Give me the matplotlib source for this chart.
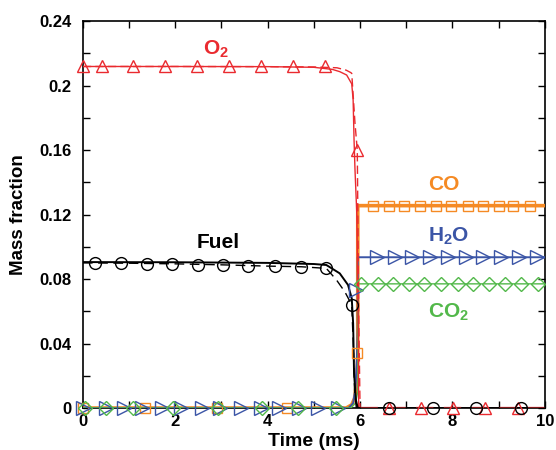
import matplotlib
matplotlib.use("Agg")
import matplotlib.pyplot as plt
from matplotlib.ticker import MultipleLocator, FixedLocator, FixedFormatter

plt.rcParams["font.family"] = ["Liberation Sans", "DejaVu Sans"]
plt.rcParams["font.weight"] = "bold"
plt.rcParams["mathtext.fontset"] = "custom"
plt.rcParams["mathtext.rm"] = "Liberation Sans:bold"
plt.rcParams["mathtext.bf"] = "Liberation Sans:bold"
plt.rcParams["mathtext.it"] = "Liberation Sans:bold"

RED = "#ea2a2f"
ORANGE = "#f58a24"
BLUE = "#3b55a6"
GREEN = "#52b84a"
BLACK = "#000000"

# ---- solid curves (model) ----
o2_t = [0, 2, 4, 5.0, 5.4, 5.56, 5.71, 5.82, 5.85, 5.87, 5.89, 5.93, 5.96, 5.97, 10]
o2_y = [0.2118, 0.2118, 0.2117, 0.2113, 0.2100, 0.2086, 0.2065, 0.2010, 0.1910, 0.1660, 0.1480, 0.1200, 0.05, 0.0, 0.0]

o2d_t = [0, 2, 4, 5.0, 5.5, 5.7, 5.8, 5.82, 5.89, 5.94, 5.97, 6.0, 10]
o2d_y = [0.2118, 0.2118, 0.2117, 0.2115, 0.2110, 0.2095, 0.2080, 0.2075, 0.1766, 0.1600, 0.06, 0.0, 0.0]

fuel_t = [0, 2, 4, 5.0, 5.27, 5.56, 5.74, 5.82, 5.85, 5.87, 5.91, 5.95, 10]
fuel_y = [0.0905, 0.0904, 0.0900, 0.0893, 0.0887, 0.0835, 0.0763, 0.0680, 0.0525, 0.0215, 0.0050, 0.0, 0.0]

fueld_t = [0, 1, 2, 3, 4, 4.73, 5.27, 5.49, 5.67, 5.82, 5.85, 5.88, 5.92, 10]
fueld_y = [0.0900, 0.0898, 0.0894, 0.0888, 0.0880, 0.0876, 0.0866, 0.0794, 0.0721, 0.0640, 0.0420, 0.0110, 0.0, 0.0]

co_t = [0, 5.7, 5.82, 5.88, 5.92, 5.95, 5.95, 10]
co_y = [0, 0, 0.002, 0.006, 0.015, 0.030, 0.1255, 0.1255]

h2o_t = [0, 5.75, 5.85, 5.90, 5.93, 5.95, 5.95, 10]
h2o_y = [0, 0, 0.003, 0.012, 0.030, 0.050, 0.0935, 0.0935]

co2_t = [0, 5.8, 5.9, 5.95, 5.95, 10]
co2_y = [0, 0, 0.003, 0.010, 0.0770, 0.0770]

# ---- symbols (reference data) ----
o2_mt = [0, 0.41, 1.08, 1.77, 2.47, 3.16, 3.85, 4.55, 5.24, 5.94, 6.62, 7.32, 8.01, 8.70, 9.42]
o2_my = [0.212, 0.212, 0.212, 0.212, 0.212, 0.212, 0.212, 0.212, 0.212, 0.160, 0, 0, 0, 0, 0]

fuel_mt = [0.26, 0.82, 1.38, 1.92, 2.49, 3.03, 3.57, 4.16, 4.73, 5.27, 5.82, 6.62, 7.58, 8.50, 9.48]
fuel_my = [0.0900, 0.0899, 0.0896, 0.0893, 0.0890, 0.0886, 0.0882, 0.0878, 0.0876, 0.0870, 0.0640, 0, 0, 0, 0]

co_mt = [0, 1.34, 2.90, 4.42, 5.94, 6.28, 6.62, 6.95, 7.29, 7.64, 7.97, 8.33, 8.65, 9.00, 9.32, 9.68]
co_my = [0, 0, 0, 0, 0.034, 0.1255, 0.1255, 0.1255, 0.1255, 0.1255, 0.1255, 0.1255, 0.1255, 0.1255, 0.1255, 0.1255]

h2o_mt = [0, 0.50, 0.90, 1.28, 1.72, 2.12, 2.58, 2.97, 3.42, 3.85, 4.25, 4.68, 5.10, 5.52, 5.92,
          6.36, 6.75, 7.13, 7.52, 7.90, 8.29, 8.67, 9.06, 9.44, 9.83]
h2o_my = [0] * 14 + [0.073] + [0.0935] * 10

co2_mt = [0.04, 0.51, 1.09, 1.95, 2.93, 3.87, 4.65, 5.47,
          6.02, 6.38, 6.71, 7.06, 7.38, 7.75, 8.12, 8.45, 8.79, 9.13, 9.48, 9.85]
co2_my = [0] * 8 + [0.0770] * 12

x_ticks = [0, 2, 4, 6, 8, 10]
y_ticks = [0, 0.04, 0.08, 0.12, 0.16, 0.2, 0.24]
y_tick_labels = ["0", "0.04", "0.08", "0.12", "0.16", "0.2", "0.24"]

fig = plt.figure(figsize=(5.56, 4.5), dpi=100)
ax = fig.add_axes([0.149, 0.0933, 0.831, 0.860])

# model curves
ax.plot(co_t, co_y, color=ORANGE, lw=2.6, zorder=3)
ax.plot(h2o_t, h2o_y, color=BLUE, lw=1.4, zorder=3)
ax.plot(co2_t, co2_y, color=GREEN, lw=1.0, zorder=3)
ax.plot(o2d_t, o2d_y, color=RED, lw=1.0, ls=(0, (6, 3)), zorder=4)
ax.plot(o2_t, o2_y, color=RED, lw=1.0, zorder=4)
ax.plot(fueld_t, fueld_y, color=BLACK, lw=1.0, ls=(0, (7, 4)), zorder=4)
ax.plot(fuel_t, fuel_y, color=BLACK, lw=1.4, zorder=4)
ax.plot([6.0, 10], [0.0, 0.0], color=RED, lw=2.5, alpha=0.55, ls=(0, (5, 3)), zorder=5)

# symbols
mk = dict(ls="none", mfc="none", clip_on=False, zorder=6)
ax.plot(o2_mt, o2_my, marker="^", ms=9, mec=RED, mew=1.0, **mk)
ax.plot(fuel_mt, fuel_my, marker="o", ms=8.5, mec=BLACK, mew=1.0, **mk)
ax.plot(co_mt, co_my, marker="s", ms=7.5, mec=ORANGE, mew=1.0, **mk)
ax.plot(h2o_mt, h2o_my, marker=">", ms=9.5, mec=BLUE, mew=1.0, **mk)
ax.plot(co2_mt, co2_my, marker="D", ms=7, mec=GREEN, mew=1.0, **mk)

# curve labels
lab = dict(fontsize=15, fontweight="bold", va="baseline", ha="left")
ax.text(2.6, 0.219, "O$_2$", color=RED, **lab)
ax.text(2.47, 0.0992, "Fuel", color=BLACK, **lab)
ax.text(7.47, 0.135, "CO", color=ORANGE, **lab)
ax.text(7.47, 0.103, "H$_2$O", color=BLUE, **lab)
ax.text(7.47, 0.0558, "CO$_2$", color=GREEN, **lab)

ax.set_xlim(0, 10)
ax.set_ylim(0, 0.24)
ax.xaxis.set_major_locator(FixedLocator(x_ticks))
ax.xaxis.set_minor_locator(MultipleLocator(1))
ax.yaxis.set_major_locator(FixedLocator(y_ticks))
ax.yaxis.set_major_formatter(FixedFormatter(y_tick_labels))
ax.yaxis.set_minor_locator(MultipleLocator(0.02))
ax.tick_params(which="both", direction="in", top=True, right=True, length=5, width=1.0,
               labelsize=12)
ax.tick_params(axis="y", pad=8)
ax.tick_params(axis="x", pad=4)
for lbl in ax.get_xticklabels() + ax.get_yticklabels():
    lbl.set_fontweight("bold")
for sp in ax.spines.values():
    sp.set_linewidth(1.2)

ax.set_xlabel("Time (ms)", fontsize=14, fontweight="bold", labelpad=3)
ax.set_ylabel("Mass fraction", fontsize=13.5, fontweight="bold")
ax.yaxis.set_label_coords(-0.121, 0.5)

fig.savefig("out.png", dpi=100)
